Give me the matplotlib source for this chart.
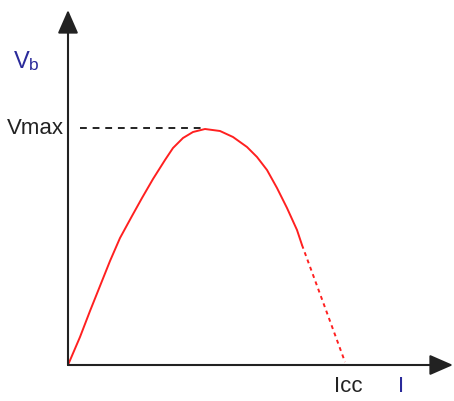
import matplotlib.pyplot as plt

# curve (arbitrary units: I along x, Vb along y)
i_solid = [0, 6, 12, 22, 32, 42, 52, 64, 74, 85, 97, 105, 115, 125, 137,
           152, 165, 179, 189, 199, 209, 219, 229, 234]
v_solid = [0, 14, 28, 54, 79, 104, 127, 149, 167, 186, 205, 217, 227, 233, 236,
           234, 228, 218, 208, 195, 177, 157, 135, 120]
i_dash = [234, 255, 277]
v_dash = [120, 63, 3]

i_peak = 137
v_max = 237
i_axis_end = 385
v_axis_end = 355

fig = plt.figure(figsize=(4.54, 4.01), dpi=100)
ax = fig.add_axes([0, 0, 1, 1])
ax.set_xlim(-68, 386)
ax.set_ylim(-36, 365)
ax.axis('off')

# axes with arrow heads
arrow = dict(arrowstyle='-|>,head_length=0.8,head_width=0.35', mutation_scale=18,
             lw=1.5, color='#222222', shrinkA=0, shrinkB=0)
ax.annotate('', xy=(i_axis_end, 0), xytext=(0, 0), arrowprops=arrow)
ax.annotate('', xy=(0, v_axis_end), xytext=(0, 0), arrowprops=arrow)

# curve
ax.plot(i_solid, v_solid, color='#ff2020', lw=1.4, solid_capstyle='round', solid_joinstyle='round')
ax.plot(i_dash, v_dash, color='#ff2020', lw=1.4, dashes=(2, 2))

# Vmax guide line
ax.plot([12, i_peak], [v_max, v_max], color='#222222', lw=1.4, dashes=(3.5, 3))

font = 'Liberation Sans'
blue = '#2a2a9a'
ax.text(-54, 303, 'V', fontsize=17, color=blue, family=font, va='center', ha='left')
ax.text(-39, 299, 'b', fontsize=12.5, color=blue, family=font, va='center', ha='left')
ax.text(-61, v_max, 'Vmax', fontsize=16, color='#222222', family=font, va='center', ha='left')
ax.text(266, -21, 'Icc', fontsize=16, color='#222222', family=font, va='center', ha='left')
ax.text(330, -21, 'I', fontsize=16, color=blue, family=font, va='center', ha='left')

fig.savefig('out.png', dpi=100)
